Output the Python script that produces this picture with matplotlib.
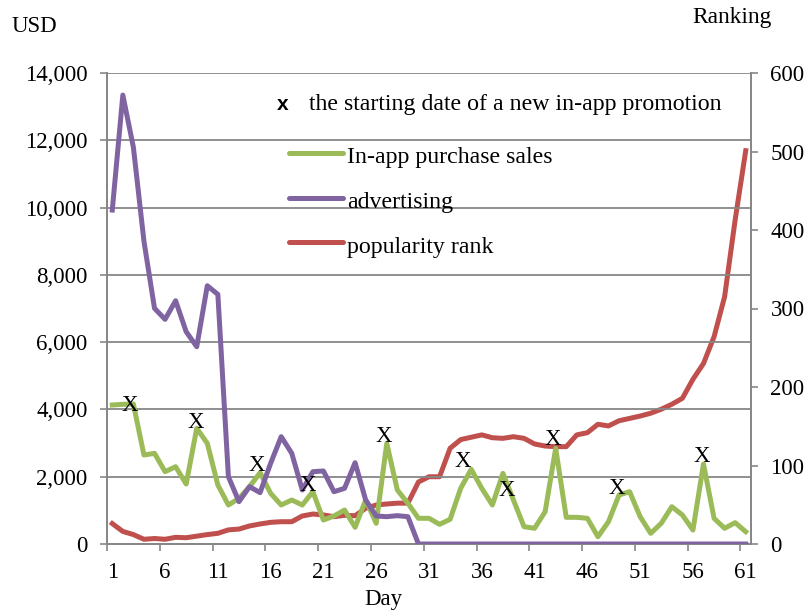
import matplotlib.pyplot as plt
import numpy as np
from matplotlib.lines import Line2D

plt.rcParams['font.family'] = ['Liberation Serif', 'DejaVu Serif']
plt.rcParams['font.size'] = 16.5

days = np.arange(1, 62)

sales = [4131, 4152, 4160, 2645, 2695, 2150, 2298, 1783, 3438, 2992,
         1753, 1159, 1357, 1704, 2120, 1506, 1159, 1308, 1159, 1555,
         713, 832, 1010, 496, 1308, 615, 2992, 1605, 1210, 764,
         764, 585, 734, 1655, 2220, 1655, 1159, 2100, 1308, 514,
         467, 960, 2844, 793, 793, 764, 217, 663, 1456, 1555,
         812, 317, 615, 1109, 862, 416, 2378, 764, 467, 634,
         366]

advertising = [9926, 13344, 11790, 9000, 7005, 6678, 7231, 6310, 5864, 7677,
               7420, 2000, 1258, 1704, 1526, 2398, 3190, 2695, 1605, 2150,
               2170, 1555, 1655, 2417, 1308, 832, 812, 842, 812, 0,
               0, 0, 0, 0, 0, 0, 0, 0, 0, 0,
               0, 0, 0, 0, 0, 0, 0, 0, 0, 0,
               0, 0, 0, 0, 0, 0, 0, 0, 0, 0,
               0]

rank = [26, 16, 12, 6, 7, 6, 8.5, 8, 10, 12,
        13.6, 18, 19, 23, 25.5, 27.6, 28.4, 28.4, 35.7, 38.2,
        37, 34.8, 36.5, 36, 45.5, 49.7, 51, 52, 52, 79,
        85.7, 85.7, 122, 133, 136, 139, 135.4, 134.6, 136.7, 134.6,
        127.4, 124.8, 124, 124, 139, 141.8, 152.5, 150.4, 157, 160,
        163, 166.6, 171.7, 178, 185.6, 209.8, 230, 264, 315, 413,
        501]

# promotion start markers (day, USD) as placed on the chart
promo_day = [2.68, 8.93, 14.67, 19.47, 26.73, 34.24, 38.4, 42.76, 48.82, 56.81]
promo_val = [4131, 3597, 2342, 1753, 3210, 2463, 1605, 3112, 1655, 2615]

green = '#9BBB59'
purple = '#8064A2'
red = '#C0504D'
gray = '#878787'

W, H = 810, 611
fig = plt.figure(figsize=(W / 100, H / 100), dpi=100)
ax = fig.add_axes([107 / W, 1 - 544 / H, (751 - 107) / W, (544 - 73) / H])
ax2 = ax.twinx()

ax.plot(days, sales, color=green, lw=3.6, solid_joinstyle='round', zorder=3)
ax.plot(days, advertising, color=purple, lw=3.6, solid_joinstyle='round', zorder=3)
ax2.plot(days, rank, color=red, lw=3.6, solid_joinstyle='round', zorder=3)

for d, v in zip(promo_day, promo_val):
    ax.text(d, v, 'X', ha='center', va='center', fontsize=16.5, zorder=5)

ax.set_xlim(0.5, 61.5)
ax.set_ylim(0, 14000)
ax2.set_ylim(0, 600)

ax.set_yticks(np.arange(0, 14001, 2000))
ax.set_yticklabels([f'{v:,}' for v in range(0, 14001, 2000)])
ax2.set_yticks(np.arange(0, 601, 100))

ax.set_xticks(np.arange(1, 62, 5))
ax.set_xticks(np.arange(0.5, 61, 5), minor=True)
ax.tick_params(axis='x', which='major', length=0, pad=13)
ax.tick_params(axis='x', which='minor', length=5, width=1.2, color=gray)
ax.tick_params(axis='y', length=5, width=1.2, color=gray, pad=9)
ax2.tick_params(axis='y', length=5, width=1.2, color=gray, pad=9)

ax.grid(axis='y', color=gray, lw=1.3)
ax.set_axisbelow(True)
for a in (ax, ax2):
    a.spines['top'].set_visible(False)
    for s in ('left', 'right', 'bottom'):
        a.spines[s].set_color(gray)
        a.spines[s].set_linewidth(1.3)
ax.set_zorder(ax2.get_zorder() + 1)
ax.patch.set_visible(False)

fig.text(34 / W, 1 - 27 / H, 'USD', ha='center', va='center')
fig.text(732 / W, 1 - 18 / H, 'Ranking', ha='center', va='center', fontsize=16.8)
fig.text(383 / W, 1 - 600 / H, 'Day', ha='center', va='center')

# legend drawn by hand
leg_fs = 17.2
fig.text(282.5 / W, 1 - 110 / H, 'x', ha='center', va='baseline',
         family='Liberation Sans', weight='bold', fontsize=15)
fig.text(309 / W, 1 - 110 / H, 'the starting date of a new in-app promotion',
         ha='left', va='baseline', fontsize=leg_fs)
entries = [(green, 'In-app purchase sales', 153.3, 163.3),
           (purple, 'advertising', 197.7, 207.7),
           (red, 'popularity rank', 241.7, 252.7)]
for c, label, ly, ty in entries:
    fig.add_artist(Line2D([289 / W, 343 / W], [1 - ly / H, 1 - ly / H],
                          color=c, lw=3.6, solid_capstyle='round'))
    fig.text(347 / W, 1 - ty / H, label, ha='left', va='baseline', fontsize=leg_fs)

fig.savefig('out.png', dpi=100)
